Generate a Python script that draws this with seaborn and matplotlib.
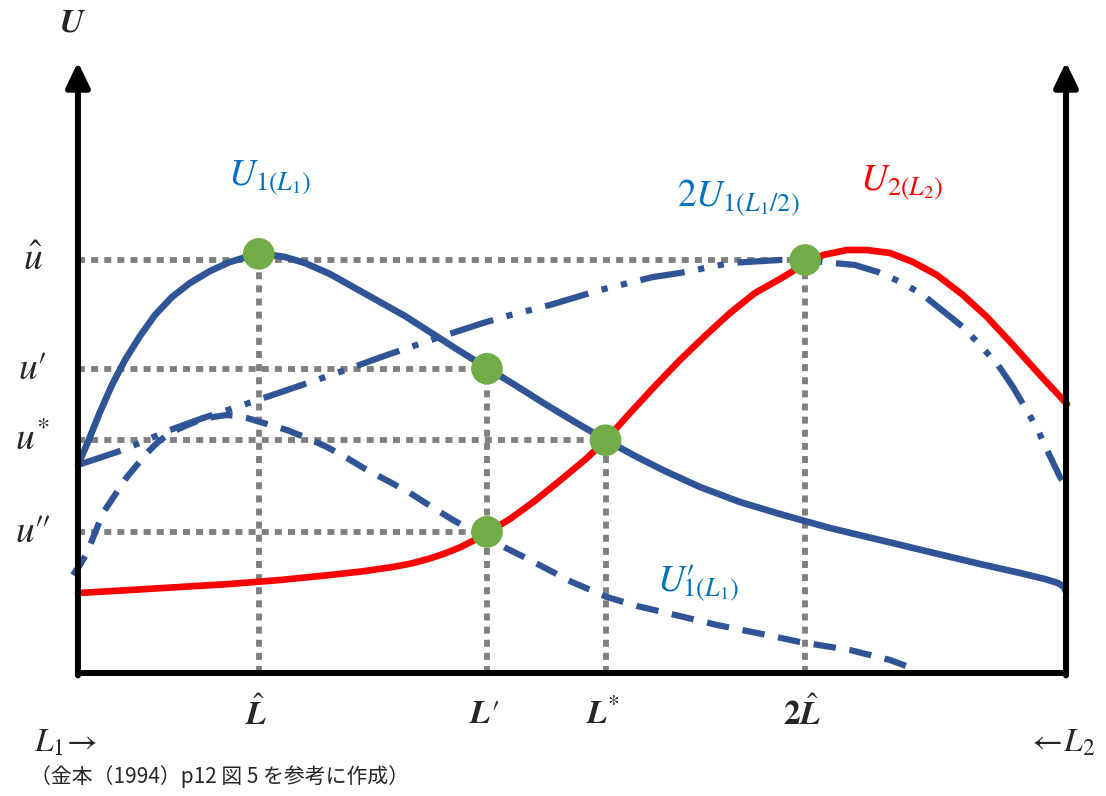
import matplotlib
matplotlib.use("Agg")
import matplotlib.pyplot as plt
import seaborn as sns

# Horizontal axis: share of L1 (0 = left wall, 100 = right wall)
# Vertical axis: utility level (0 = bottom axis, 100 = arrow tips)

# U1(L1): solid blue curve
u1_x = [0, 1.01, 2.23, 3.44, 4.76, 6.28, 7.79, 9.51, 11.34, 13.36, 15.38, 17.41, 18.93,
        20.95, 22.98, 25.51, 28.04, 30.57, 33.10, 35.63, 38.16, 41.40, 44.23, 47.27,
        50.30, 53.44, 56.38, 59.41, 62.96, 67.00, 71.05, 76.11, 81.17, 86.23, 91.30,
        95.34, 97.87, 99.19, 99.80, 100]
u1_y = [34.04, 37.81, 42.72, 47.14, 51.23, 55.16, 58.59, 61.54, 63.83, 65.79, 67.27, 68.25,
        68.58, 68.09, 67.10, 65.30, 63.01, 60.72, 58.43, 55.81, 53.19, 49.92, 47.14, 44.03,
        41.08, 38.13, 35.52, 33.06, 30.44, 27.99, 26.02, 23.73, 21.77, 19.80, 17.84,
        16.37, 15.38, 14.73, 14.08, 13.26]

# U2(L2): red curve
u2_x = [0, 5.26, 10.32, 15.38, 20.45, 25.51, 28.70, 31.88, 33.80, 35.63, 37.10, 38.66,
        40.00, 41.40, 43.72, 46.26, 48.79, 51.32, 53.44, 55.87, 58.40, 60.93, 63.46,
        65.99, 68.52, 71.05, 72.37, 73.58, 75.40, 77.83, 79.86, 82.19, 84.51, 86.94,
        89.57, 92.00, 94.64, 97.37, 100.10]
u2_y = [13.09, 13.58, 14.08, 14.57, 15.22, 16.04, 16.62, 17.35, 17.95, 18.75, 19.55, 20.55,
        21.65, 22.91, 25.20, 28.20, 31.50, 34.90, 38.13, 42.55, 46.97, 51.23, 55.16,
        58.92, 62.19, 64.48, 65.79, 66.94, 68.41, 69.23, 69.23, 68.74, 67.27, 65.14,
        61.87, 58.27, 53.68, 48.77, 44.03]

# 2U1(L1/2): dash-dot-dot curve
u1h_x = [0, 4.55, 9.31, 12.65, 16.70, 21.76, 26.21, 31.28, 36.34, 40.99, 43.42, 47.77,
         52.83, 58.20, 60.93, 65.99, 71.05, 74.39, 78.64, 80.97, 83.50, 85.53, 89.57,
         91.30, 93.12, 94.64, 97.06, 98.18, 99.39, 99.60]
u1h_y = [34.04, 36.50, 39.77, 41.73, 43.86, 46.64, 49.10, 52.05, 54.83, 57.28, 58.43, 60.23,
         62.68, 64.81, 65.47, 67.10, 67.60, 67.43, 66.78, 65.63, 63.83, 61.87, 56.63,
         53.68, 50.41, 46.81, 40.10, 36.17, 32.08, 31.59]

# U1'(L1): dashed curve
u1p_x = [-0.51, 0.20, 0.91, 1.72, 2.53, 3.74, 4.96, 5.97, 6.98, 8.10, 9.31, 10.83, 12.35,
         13.66, 15.08, 16.09, 17.11, 19.13, 21.15, 23.18, 25.20, 27.23, 29.25, 31.58,
         33.60, 35.83, 37.96, 40.38, 42.71, 45.75, 50.00, 53.54, 56.58, 59.62, 64.68,
         69.74, 73.08, 78.14, 82.19, 84.92]
u1p_y = [16.04, 17.68, 19.64, 22.91, 26.19, 29.13, 32.08, 34.04, 36.01, 37.81, 39.28, 40.43,
         41.41, 41.90, 42.23, 42.06, 41.73, 40.75, 39.77, 38.46, 36.99, 35.19, 33.22,
         31.26, 29.46, 27.17, 25.04, 22.91, 20.95, 18.49, 14.89, 12.44, 10.97, 9.82,
         7.86, 6.22, 5.07, 3.76, 2.13, 0.49]

# equilibrium points and their reference levels
pt_x = [18.3, 41.4, 53.4, 73.6, 41.4]
pt_y = [68.6, 49.8, 38.1, 67.6, 23.1]
level_names = [r"$\hat{u}$", r"$u\prime$", r"$u^{*}$", r"$u\prime\!\prime$"]
level_y = [67.6, 49.8, 38.1, 23.1]
level_end = [73.6, 41.4, 53.4, 41.4]
pos_names = [r"$\hat{\boldsymbol{L}}$", r"$\boldsymbol{L}\prime$", r"$\boldsymbol{L}^{*}$",
             r"$\mathbf{2}\hat{\boldsymbol{L}}$"]
pos_x = [18.3, 41.4, 53.4, 73.6]
pos_top = [67.6, 49.8, 38.1, 67.6]

blue = "#2F5597"
label_blue = "#0070C0"

sns.set_theme(style="white")
plt.rcParams["mathtext.fontset"] = "stix"
plt.rcParams["font.family"] = ["DejaVu Sans"]

fig = plt.figure(figsize=(11.06, 7.96), dpi=100)
ax = fig.add_axes([0, 0, 1, 1])
ax.set_xlim(-7.89, 104.05)
ax.set_ylim(-20.13, 110.15)
ax.axis("off")

# dotted guide lines
dots = [(0, (1.2, 1.05))]
ax.hlines(level_y, 0, level_end, colors="#7F7F7F", linewidth=4.2, linestyles=dots, zorder=2)
ax.vlines(pos_x, 0, pos_top, colors="#7F7F7F", linewidth=4.2, linestyles=dots, zorder=2)

# curves
sns.lineplot(x=u1_x, y=u1_y, ax=ax, color=blue, linewidth=4.8, sort=False,
             estimator=None, zorder=3)
sns.lineplot(x=u2_x, y=u2_y, ax=ax, color="#FF0000", linewidth=4.8, sort=False,
             estimator=None, zorder=3)
sns.lineplot(x=u1h_x, y=u1h_y, ax=ax, color=blue, linewidth=4.5, sort=False,
             estimator=None, zorder=3,
             linestyle=(0, (7.2, 2.2, 1.0, 2.2, 1.0, 2.2)), dash_capstyle="butt")
sns.lineplot(x=u1p_x, y=u1p_y, ax=ax, color=blue, linewidth=4.5, sort=False,
             estimator=None, zorder=3,
             linestyle=(0, (3.6, 2.2)), dash_capstyle="butt")

# green points
sns.scatterplot(x=pt_x, y=pt_y, ax=ax, s=520, color="#70AD47", edgecolor="none",
                zorder=5)

# axes with arrows
arrow = dict(arrowstyle="-|>,head_length=0.75,head_width=0.36", color="black",
             lw=4.3, shrinkA=0, shrinkB=0, mutation_scale=20)
ax.annotate("", xy=(0, 100), xytext=(0, -0.4), arrowprops=arrow, zorder=6)
ax.annotate("", xy=(100, 100), xytext=(100, -0.4), arrowprops=arrow, zorder=6)
ax.plot([-0.3, 100.3], [0, 0], color="black", linewidth=4.3, solid_capstyle="butt",
        zorder=6)

# texts
ax.text(-0.6, 106.5, r"$\boldsymbol{U}$", fontsize=24, ha="center", va="center")
for name, y in zip(level_names, level_y):
    ax.text(-4.6, y, name, fontsize=27, ha="center", va="center")
for name, x in zip(pos_names, pos_x):
    ax.text(x - 0.3, -6.7, name, fontsize=24, ha="center", va="center")

ax.text(19.4, 81.0, r"$U_{1(L_1)}$", fontsize=27, color=label_blue,
        ha="center", va="center")
ax.text(66.8, 77.7, r"$2U_{1(L_1/2)}$", fontsize=27, color=label_blue,
        ha="center", va="center")
ax.text(83.4, 80.2, r"$U_{2(L_2)}$", fontsize=27, color="#FF0000",
        ha="center", va="center")
ax.text(62.8, 14.7, r"$U\prime_{\!\!\!\!1(L_1)}$", fontsize=27, color=label_blue,
        ha="center", va="center")

ax.text(-4.4, -11.3, r"$L_1\!\rightarrow$", fontsize=24, ha="left", va="center")
ax.text(103.0, -11.3, r"$\leftarrow\!L_2$", fontsize=24, ha="right", va="center")
ax.text(-4.9, -17.0, "（金本（1994）p12 図 5 を参考に作成）", fontsize=15,
        family=["Noto Sans CJK JP", "DejaVu Sans"], ha="left", va="center")

fig.savefig("out.png", dpi=100)
